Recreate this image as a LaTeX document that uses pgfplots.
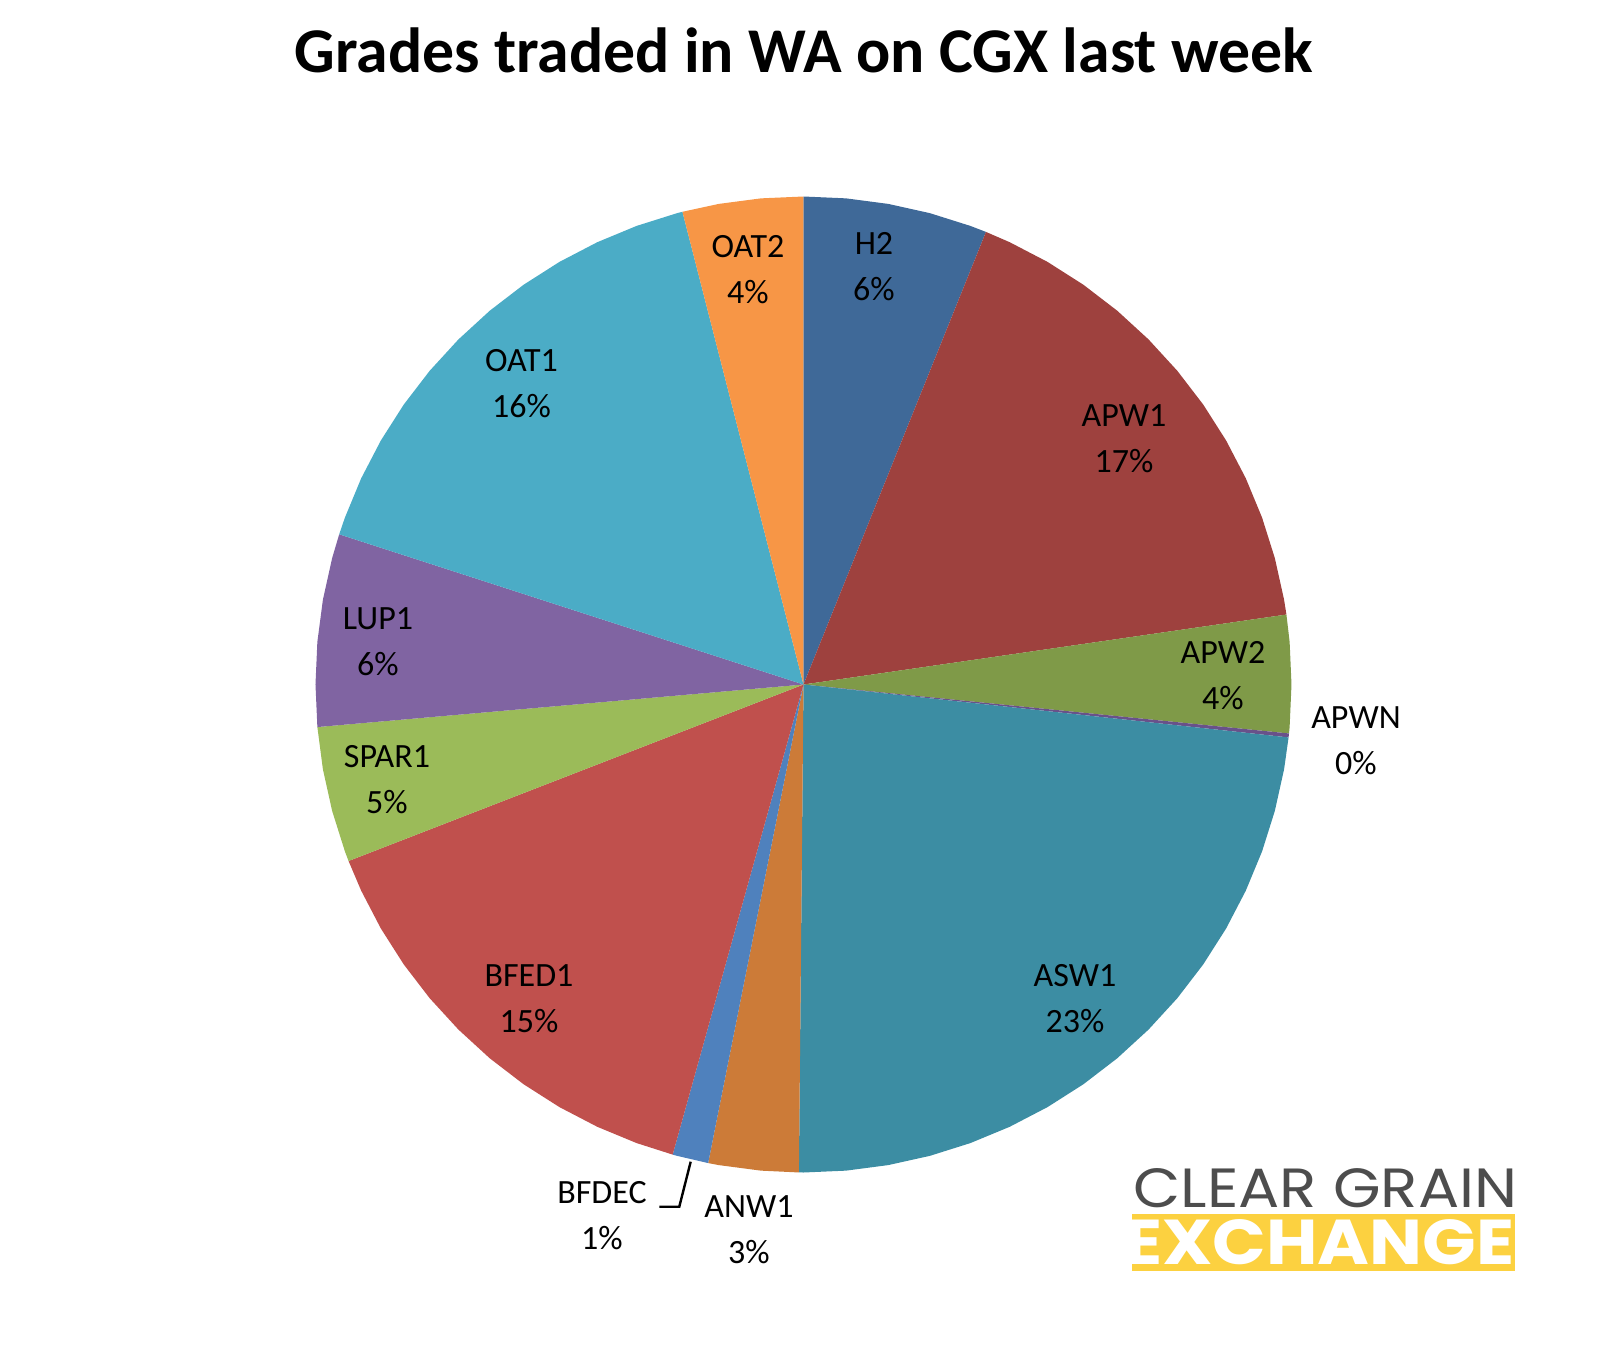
\documentclass[border=0pt]{standalone}
\usepackage{pgfplots}
\pgfplotsset{compat=1.18}
\usepackage{fontspec}
\setmainfont{Carlito}
\newfontfamily\logofont{Poppins}
\definecolor{cH2}{RGB}{63,105,152}
\definecolor{cAPW1}{RGB}{158,65,62}
\definecolor{cAPW2}{RGB}{127,154,72}
\definecolor{cAPWN}{RGB}{105,81,138}
\definecolor{cASW1}{RGB}{60,141,163}
\definecolor{cANW1}{RGB}{204,123,56}
\definecolor{cBFDEC}{RGB}{79,129,189}
\definecolor{cBFED1}{RGB}{192,80,77}
\definecolor{cSPAR1}{RGB}{155,187,89}
\definecolor{cLUP1}{RGB}{128,100,162}
\definecolor{cOAT1}{RGB}{75,172,198}
\definecolor{cOAT2}{RGB}{247,150,70}
\definecolor{logogray}{RGB}{77,77,77}
\definecolor{logoyellow}{RGB}{252,209,64}
\pgfplotsset{pie/.style={draw=none, data cs=polar}}
% Shares (%): H2 6.10, APW1 16.61, APW2 3.89, APWN 0.13, ASW1 23.42, ANW1 2.98,
% BFDEC 1.19, BFED1 14.79, SPAR1 4.50, LUP1 6.37, OAT1 16.03, OAT2 3.99
% Slice boundaries (deg, clockwise from 12 o'clock): 90 - 3.6*cumulative share
\begin{document}
\begin{tikzpicture}
\path[use as bounding box] (-401.75pt,-333.25pt) rectangle (402.25pt,342.25pt);
\begin{axis}[at={(0,0)}, anchor=origin, width=488pt, height=488pt, scale only axis,
  xmin=-1, xmax=1, ymin=-1, ymax=1, hide axis, clip=false]
\addplot[pie, fill=cH2] coordinates {(0,0) (90,1) (85,1) (80,1) (75,1) (70,1) (68.04,1)};
\addplot[pie, fill=cAPW1] coordinates {(0,0) (68.04,1) (65,1) (60,1) (55,1) (50,1) (45,1) (40,1) (35,1) (30,1) (25,1) (20,1) (15,1) (10,1) (8.244,1)};
\addplot[pie, fill=cAPW2] coordinates {(0,0) (8.244,1) (5,1) (0,1) (-5,1) (-5.76,1)};
\addplot[pie, fill=cAPWN] coordinates {(0,0) (-5.76,1) (-6.228,1)};
\addplot[pie, fill=cASW1] coordinates {(0,0) (-6.228,1) (-10,1) (-15,1) (-20,1) (-25,1) (-30,1) (-35,1) (-40,1) (-45,1) (-50,1) (-55,1) (-60,1) (-65,1) (-70,1) (-75,1) (-80,1) (-85,1) (-90,1) (-90.54,1)};
\addplot[pie, fill=cANW1] coordinates {(0,0) (-90.54,1) (-95,1) (-100,1) (-101.268,1)};
\addplot[pie, fill=cBFDEC] coordinates {(0,0) (-101.268,1) (-105,1) (-105.552,1)};
\addplot[pie, fill=cBFED1] coordinates {(0,0) (-105.552,1) (-110,1) (-115,1) (-120,1) (-125,1) (-130,1) (-135,1) (-140,1) (-145,1) (-150,1) (-155,1) (-158.796,1)};
\addplot[pie, fill=cSPAR1] coordinates {(0,0) (-158.796,1) (-160,1) (-165,1) (-170,1) (-174.996,1)};
\addplot[pie, fill=cLUP1] coordinates {(0,0) (-174.996,1) (-180,1) (-185,1) (-190,1) (-195,1) (-197.928,1)};
\addplot[pie, fill=cOAT1] coordinates {(0,0) (-197.928,1) (-200,1) (-205,1) (-210,1) (-215,1) (-220,1) (-225,1) (-230,1) (-235,1) (-240,1) (-245,1) (-250,1) (-255,1) (-255.636,1)};
\addplot[pie, fill=cOAT2] coordinates {(0,0) (-255.636,1) (-260,1) (-265,1) (-270,1)};
\end{axis}
% title
\node[anchor=base, inner sep=0pt] at (0.25pt,305.9pt) {\resizebox{509pt}{!}{\bfseries Grades traded in WA on CGX last week}};
% data labels
\begin{scope}[every node/.style={align=center, inner sep=0pt, font=\fontsize{17}{23}\selectfont}]
\node at (35.25pt,208.75pt) {H2\\6\%};
\node at (-27.75pt,207.25pt) {OAT2\\4\%};
\node at (-141pt,150.25pt) {OAT1\\16\%};
\node at (160.25pt,123pt) {APW1\\17\%};
\node at (209.75pt,4.5pt) {APW2\\4\%};
\node at (276.25pt,-28.25pt) {APWN\\0\%};
\node at (135.75pt,-157.25pt) {ASW1\\23\%};
\node at (-27.25pt,-272.75pt) {ANW1\\3\%};
\node at (-100.75pt,-265.75pt) {BFDEC\\1\%};
\node at (-137.25pt,-157.25pt) {BFED1\\15\%};
\node at (-208.25pt,-47.5pt) {SPAR1\\5\%};
\node at (-212.75pt,21.25pt) {LUP1\\6\%};
\end{scope}
\draw[black, line width=1.2pt] (-56.4pt,-238.6pt) -- (-62.1pt,-261.1pt) -- (-72.1pt,-261.1pt);
% logo
\node[anchor=base west, inner sep=0pt, text=logogray] at (164.75pt,-261.25pt) {\resizebox{192pt}{19.5pt}{\logofont CLEAR GRAIN}};
\fill[logoyellow] (164.4pt,-264.75pt) rectangle (355.75pt,-293.25pt);
\node[anchor=base west, inner sep=0pt, text=white] at (160.25pt,-289.9pt) {\resizebox{195pt}{22.5pt}{\logofont\bfseries EXCHANGE}};
\end{tikzpicture}
\end{document}
